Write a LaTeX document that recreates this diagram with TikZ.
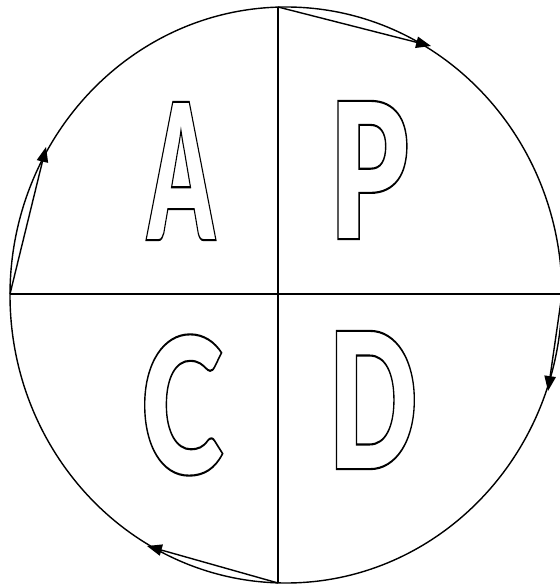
\documentclass[tikz,border=0pt]{standalone}
\usepackage{fontspec}
\newfontfamily\pdcafont{Lato Black}
\usetikzlibrary{arrows.meta}

%% hollow (outlined) letters: text render mode 1 = stroke only
\newcommand{\hollowtext}[1]{\special{pdf:literal direct 1 Tr 1.2 w}#1\special{pdf:literal direct 0 Tr}}

\tikzset{
  rim/.style={draw=black, line width=0.8pt},
  axisline/.style={black, line width=0.8pt},
  turn/.style={-{Triangle[length=8.5pt,width=6.5pt]}, line width=0.8pt, black},
  letter/.style={inner sep=0pt, font=\pdcafont\fontsize{108}{108}\selectfont},
}

\begin{document}
\begin{tikzpicture}[x=0.02cm, y=-0.02cm]
\useasboundingbox (0,0) rectangle (560,587);

%% Outer ring
\def\cx{286}
\def\cy{295}
\draw[rim] (\cx,\cy) ellipse [x radius=276, y radius=288];

%% Ends of the two axes on the ring
\coordinate (top)    at (278,7);
\coordinate (bottom) at (278,583);
\coordinate (left)   at (10,294);
\coordinate (right)  at (562,294);

%% Arrow tips on the ring
\coordinate (ptip) at (431,46);
\coordinate (dtip) at (548,391);
\coordinate (ctip) at (147,546);
\coordinate (atip) at (46,147);

%% Axes
\draw[axisline] (top) -- (bottom);
\draw[axisline] (left) -- (right);

%% Cycle arrows
\draw[turn] (top) -- (ptip);
\draw[turn] (right) -- (dtip);
\draw[turn] (bottom) -- (ctip);
\draw[turn] (left) -- (atip);

%% Quadrant letters
\node[letter] (actL) at (181,171) {\scalebox{0.50}[1]{\hollowtext{A}}};
\node[letter] (planL) at (369,170) {\scalebox{0.66}[1]{\hollowtext{P}}};
\node[letter] (checkL) at (182,405) {\scalebox{0.66}[1]{\hollowtext{C}}};
\node[letter] (doL) at (373,400) {\scalebox{0.62}[1]{\hollowtext{D}}};

\end{tikzpicture}
\end{document}
